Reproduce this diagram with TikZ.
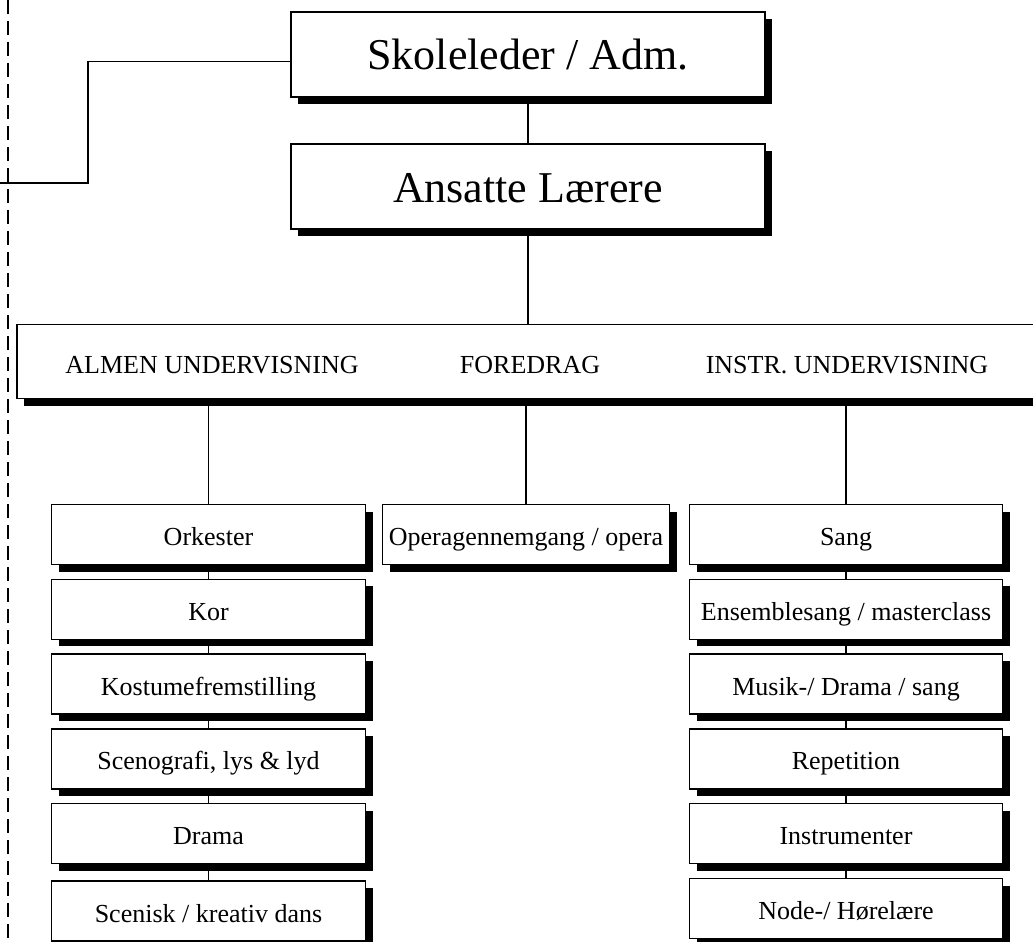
\documentclass[tikz,border=0pt]{standalone}
\usepackage{fontspec}
\setmainfont{Liberation Serif}
\usepackage{tikz}
\usetikzlibrary{
    shadows,
    positioning
}
\tikzset{
    boks/.style={draw, fill=white, line width=1.3pt, inner sep=2pt,
        drop shadow={shadow xshift=7pt, shadow yshift=-7pt, fill=black, opacity=1}},
    stor/.style={boks, minimum width=474pt, minimum height=85pt, text height=34pt, text depth=3pt,
        font=\fontsize{44}{50}\selectfont},
    lille/.style={boks, minimum height=60pt, text height=23pt, text depth=1pt,
        font=\fontsize{26}{30}\selectfont},
    overskrift/.style={font=\fontsize{26}{30}\selectfont},
    linje/.style={line width=1.3pt}
}

\begin{document}
\begin{tikzpicture}[x=1pt, y=-1pt]
                                \useasboundingbox (0,0) rectangle (1033,942);
                                \node[stor] (skole) at (528,54.5) {Skoleleder / Adm.};
                                \node[stor] (ansatte) at (528,186.5) {Ansatte Lærere};
                                \node[boks, minimum width=1030pt, minimum height=74pt] (bar) at (532,361.5) {};
                                \node[overskrift] (almen) at (212,365) {ALMEN UNDERVISNING};
                                \node[overskrift] (foredrag) at (530,365) {FOREDRAG};
                                \node[overskrift] (instr) at (847,365) {INSTR. UNDERVISNING};

                                \node[lille, minimum width=314pt] (orkester) at (208.5,534.5) {Orkester};
                                \node[lille, minimum width=314pt, below=13.5pt of orkester] (kor) {Kor};
                                \node[lille, minimum width=314pt, below=13.5pt of kor] (kostume) {Kostumefremstilling};
                                \node[lille, minimum width=314pt, below=13.5pt of kostume] (scenografi) {Scenografi, lys \& lyd};
                                \node[lille, minimum width=314pt, below=13.5pt of scenografi] (drama) {Drama};
                                \node[lille, minimum width=314pt, below=16pt of drama] (dans) {Scenisk / kreativ dans};

                                \node[lille, minimum width=287pt] (opera) at (526,534.5) {Operagennemgang / opera};

                                \node[lille, minimum width=313pt] (sang) at (846,534.5) {Sang};
                                \node[lille, minimum width=313pt, below=13.5pt of sang] (ensemble) {Ensemblesang / masterclass};
                                \node[lille, minimum width=313pt, below=13.5pt of ensemble] (musik) {Musik-/ Drama / sang};
                                \node[lille, minimum width=313pt, below=13.5pt of musik] (repetition) {Repetition};
                                \node[lille, minimum width=313pt, below=13.5pt of repetition] (instrumenter) {Instrumenter};
                                \node[lille, minimum width=313pt, below=13.5pt of instrumenter] (hoerelaere) {Node-/ Hørelære};

                                \coordinate (topp) at (8,0);
                                \coordinate (bunn) at (8,942);
                                \coordinate (knaek) at (88,183);
                                \coordinate (venstre) at (0,183);

                                \draw[linje, dash pattern=on 14pt off 7pt] (topp) -- (bunn);
                                \draw[linje] ([yshift=-7pt]skole.west) -| (knaek) -- (venstre);
                                \draw[linje] (skole.south) -- (ansatte.north);
                                \draw[linje] (ansatte.south) -- (ansatte.south |- bar.north);
                                \draw[linje]
                                (orkester.north |- bar.south) edge (orkester.north)
                                (opera.north |- bar.south) edge (opera.north)
                                (sang.north |- bar.south) edge (sang.north);
                                \draw[linje]
                                (orkester.south) edge (kor.north)
                                (kor.south) edge (kostume.north)
                                (kostume.south) edge (scenografi.north)
                                (scenografi.south) edge (drama.north)
                                (drama.south) edge (dans.north)
                                (sang.south) edge (ensemble.north)
                                (ensemble.south) edge (musik.north)
                                (musik.south) edge (repetition.north)
                                (repetition.south) edge (instrumenter.north)
                                (instrumenter.south) edge (hoerelaere.north);
                            \end{tikzpicture}
\end{document}
